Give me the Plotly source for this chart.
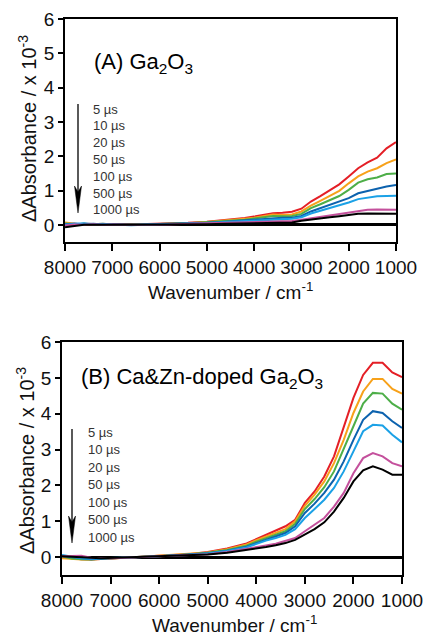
import plotly.graph_objects as go

W, H = 424, 632

wavenumber = [8000, 7800, 7600, 7400, 7200, 7000, 6600, 6200, 5800, 5400, 5000, 4600, 4200, 4000,
              3800, 3600, 3400, 3200, 3000, 2800, 2600, 2400, 2200, 2000, 1800, 1600, 1400, 1200, 1000]

delays = ["5 µs", "10 µs", "20 µs", "50 µs", "100 µs", "500 µs", "1000 µs"]
colors = ["#e41f26", "#f7a11a", "#4dae48", "#0c62ae", "#1ba1e6", "#c4509c", "#000000"]

# Panel A: Ga2O3
a_5us = [0.03, 0.01, 0.03, 0.02, 0.03, 0.01, 0.01, 0.02, 0.04, 0.06, 0.09, 0.14, 0.20, 0.24, 0.29, 0.34, 0.35, 0.38, 0.47, 0.68, 0.84, 1.02, 1.18, 1.41, 1.65, 1.82, 1.96, 2.23, 2.41]
a_10us = [0.07, 0.03, 0.00, 0.02, 0.03, 0.01, 0.00, 0.02, 0.03, 0.05, 0.08, 0.12, 0.18, 0.21, 0.25, 0.30, 0.29, 0.30, 0.39, 0.56, 0.70, 0.84, 0.99, 1.21, 1.41, 1.55, 1.65, 1.80, 1.91]
a_20us = [0.04, 0.02, 0.03, 0.01, 0.02, 0.00, 0.01, 0.01, 0.03, 0.05, 0.07, 0.11, 0.15, 0.18, 0.22, 0.26, 0.25, 0.26, 0.32, 0.49, 0.60, 0.73, 0.84, 1.02, 1.23, 1.33, 1.38, 1.48, 1.50]
a_50us = [0.02, 0.04, 0.02, 0.03, 0.01, 0.02, 0.00, 0.01, 0.02, 0.04, 0.06, 0.09, 0.13, 0.15, 0.18, 0.21, 0.21, 0.21, 0.26, 0.39, 0.49, 0.58, 0.68, 0.78, 0.92, 0.99, 1.05, 1.12, 1.16]
a_100us = [0.00, 0.03, 0.05, 0.02, 0.03, 0.01, -0.01, 0.01, 0.02, 0.04, 0.05, 0.08, 0.11, 0.13, 0.15, 0.17, 0.17, 0.18, 0.22, 0.33, 0.41, 0.49, 0.56, 0.65, 0.75, 0.80, 0.83, 0.84, 0.85]
a_500us = [-0.02, 0.01, 0.00, 0.02, 0.00, 0.01, 0.00, 0.00, 0.01, 0.03, 0.04, 0.05, 0.06, 0.07, 0.09, 0.10, 0.10, 0.11, 0.15, 0.19, 0.23, 0.27, 0.32, 0.36, 0.41, 0.44, 0.45, 0.45, 0.44]
a_1000us = [-0.07, -0.03, 0.00, 0.00, 0.01, 0.00, 0.00, 0.00, 0.01, 0.02, 0.02, 0.03, 0.04, 0.04, 0.05, 0.06, 0.06, 0.07, 0.12, 0.16, 0.19, 0.22, 0.25, 0.29, 0.32, 0.33, 0.33, 0.34, 0.32]

# Panel B: Ca&Zn-doped Ga2O3
b_5us = [0.00, -0.04, -0.06, -0.07, -0.06, -0.04, -0.01, 0.02, 0.05, 0.08, 0.14, 0.24, 0.38, 0.50, 0.62, 0.76, 0.86, 1.04, 1.51, 1.83, 2.25, 2.81, 3.60, 4.44, 5.08, 5.42, 5.42, 5.15, 5.02]
b_10us = [-0.03, -0.06, -0.07, -0.07, -0.06, -0.04, -0.01, 0.02, 0.05, 0.08, 0.13, 0.22, 0.35, 0.47, 0.58, 0.69, 0.78, 1.00, 1.43, 1.74, 2.11, 2.62, 3.27, 4.02, 4.62, 4.97, 4.97, 4.69, 4.56]
b_20us = [0.02, -0.04, -0.06, -0.07, -0.05, -0.04, -0.01, 0.02, 0.04, 0.07, 0.12, 0.20, 0.32, 0.43, 0.53, 0.62, 0.72, 0.93, 1.34, 1.62, 1.95, 2.39, 3.00, 3.65, 4.28, 4.58, 4.56, 4.28, 4.11]
b_50us = [0.03, 0.00, -0.04, -0.06, -0.05, -0.03, -0.01, 0.01, 0.04, 0.07, 0.11, 0.18, 0.29, 0.39, 0.48, 0.58, 0.67, 0.86, 1.23, 1.49, 1.79, 2.16, 2.67, 3.27, 3.83, 4.07, 4.02, 3.79, 3.60]
b_100us = [0.06, 0.01, -0.03, -0.05, -0.04, -0.03, -0.01, 0.01, 0.03, 0.06, 0.10, 0.17, 0.27, 0.37, 0.46, 0.53, 0.62, 0.78, 1.09, 1.34, 1.60, 1.93, 2.39, 2.95, 3.51, 3.69, 3.67, 3.41, 3.20]
b_500us = [0.02, 0.03, 0.04, -0.02, -0.03, -0.03, -0.01, 0.01, 0.03, 0.05, 0.08, 0.14, 0.22, 0.28, 0.32, 0.37, 0.44, 0.53, 0.72, 0.90, 1.09, 1.41, 1.79, 2.34, 2.76, 2.90, 2.81, 2.62, 2.53]
b_1000us = [0.02, 0.00, -0.01, -0.02, -0.03, -0.02, -0.01, 0.00, 0.02, 0.04, 0.07, 0.12, 0.19, 0.23, 0.28, 0.33, 0.39, 0.48, 0.62, 0.78, 0.97, 1.27, 1.65, 2.11, 2.42, 2.53, 2.44, 2.30, 2.30]

panel_a = [a_5us, a_10us, a_20us, a_50us, a_100us, a_500us, a_1000us]
panel_b = [b_5us, b_10us, b_20us, b_50us, b_100us, b_500us, b_1000us]

x_ticks = [8000, 7000, 6000, 5000, 4000, 3000, 2000, 1000]
y_ticks = [0, 1, 2, 3, 4, 5, 6]

FONT = "Liberation Sans, Arial, sans-serif"

fig = go.Figure()
for ser, col, lab in zip(panel_a, colors, delays):
    fig.add_trace(go.Scatter(x=wavenumber, y=ser, mode="lines", line=dict(color=col, width=2),
                             name=lab, xaxis="x", yaxis="y", showlegend=False))
for ser, col, lab in zip(panel_b, colors, delays):
    fig.add_trace(go.Scatter(x=wavenumber, y=ser, mode="lines", line=dict(color=col, width=2),
                             name=lab, xaxis="x2", yaxis="y2", showlegend=False))

def px(x):
    return x / W

def py(y):
    return 1 - y / H

axis_common = dict(showgrid=False, showline=True, linecolor="black", linewidth=1.8, mirror=True,
                   ticks="outside", tickcolor="black", tickwidth=1.5, automargin=False, tickangle=0,
                   tickfont=dict(family=FONT, size=19, color="#111"))

fig.update_layout(
    width=W, height=H, margin=dict(l=0, r=0, t=0, b=0, autoexpand=False),
    paper_bgcolor="white", plot_bgcolor="white",
    xaxis=dict(domain=[px(65), px(396)], range=[8000, 1000], tickvals=x_ticks, ticklen=7,
               anchor="y", zeroline=False, **axis_common),
    yaxis=dict(domain=[py(242), py(19)], range=[-0.5, 6], tickvals=y_ticks, ticklen=5,
               anchor="x", zeroline=True, zerolinecolor="black", zerolinewidth=2.5, **axis_common),
    xaxis2=dict(domain=[px(62), px(402)], range=[8000, 1000], tickvals=x_ticks, ticklen=7,
                anchor="y2", zeroline=False, **axis_common),
    yaxis2=dict(domain=[py(575), py(342)], range=[-0.5, 6], tickvals=y_ticks, ticklen=5,
                anchor="x2", zeroline=True, zerolinecolor="black", zerolinewidth=2.5, **axis_common),
)

ann = []
# Panel titles
ann.append(dict(text="(A) Ga<sub>2</sub>O<sub>3</sub>", x=px(92), y=py(63), xanchor="left", yanchor="middle",
                font=dict(family=FONT, size=22, color="black")))
ann.append(dict(text="(B) Ca&amp;Zn-doped Ga<sub>2</sub>O<sub>3</sub>", x=px(79), y=py(378), xanchor="left",
                yanchor="middle", font=dict(family=FONT, size=22, color="black")))
# Axis titles
for cx, cy in [(230, 291), (234, 624)]:
    ann.append(dict(text="Wavenumber / cm<sup>-1</sup>", x=px(cx), y=py(cy), xanchor="center", yanchor="middle",
                    font=dict(family=FONT, size=19, color="#111")))
for cx, cy in [(27, 129), (25, 461)]:
    ann.append(dict(text="ΔAbsorbance / x 10<sup>-3</sup>", x=px(cx), y=py(cy), xanchor="center",
                    yanchor="middle", textangle=-90, font=dict(family=FONT, size=20, color="#111")))
# Delay labels
for i, lab in enumerate(delays):
    ann.append(dict(text=lab, x=px(91), y=py(109 + i * 16.8), xanchor="left", yanchor="middle",
                    font=dict(family=FONT, size=13, color="#333")))
    ann.append(dict(text=lab, x=px(86), y=py(432 + i * 17.5), xanchor="left", yanchor="middle",
                    font=dict(family=FONT, size=13, color="#333")))
for a in ann:
    a.update(xref="paper", yref="paper", showarrow=False)
fig.update_layout(annotations=ann)

# Arrows (line + head)
shapes = []
for ax_, y0, y1 in [(78, 104, 213), (72, 429, 543)]:
    shapes.append(dict(type="line", xref="paper", yref="paper", x0=px(ax_), x1=px(ax_), y0=py(y0), y1=py(y1 - 15),
                       line=dict(color="black", width=1.3)))
    path = (f"M {px(ax_)} {py(y1)} L {px(ax_ - 3.5)} {py(y1 - 27)} L {px(ax_)} {py(y1 - 21)} "
            f"L {px(ax_ + 3.5)} {py(y1 - 27)} Z")
    shapes.append(dict(type="path", xref="paper", yref="paper", path=path, fillcolor="black",
                       line=dict(color="black", width=0.5)))
fig.update_layout(shapes=shapes)

fig.write_html("out.html", config={"displayModeBar": False},
               post_script="document.body.style.margin='0px';document.body.style.overflow='hidden';")
